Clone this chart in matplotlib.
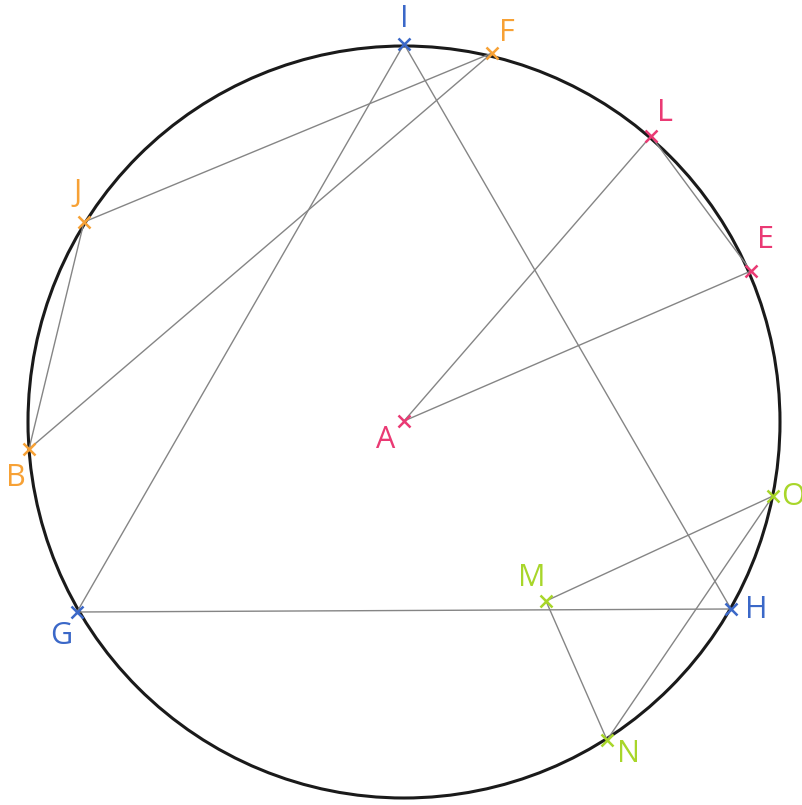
import matplotlib
matplotlib.use("Agg")
import matplotlib.pyplot as plt
from matplotlib.patches import Circle

# Points (image pixel coordinates, y downward)
names = ["I", "F", "L", "E", "O", "H", "N", "M", "G", "B", "J", "A"]
xs = [404, 492, 651, 751, 773, 731, 607, 546, 77, 29, 84, 404]
ys = [44, 53, 136, 271, 496, 609, 740, 601, 612, 449, 222, 421]
groups = ["blue", "orange", "pink", "pink", "green", "blue", "green", "green",
          "blue", "orange", "orange", "pink"]

# label offsets from each point
label_dx = [0, 15, 14, 15, 20, 25, 21, -14, -16, -13, -6, -18]
label_dy = [-25, -20, -23, -31, 1, 1, 14, -23, 24, 29, -29, 19]

# triangles
triangles = [("I", "G", "H"), ("F", "J", "B"), ("A", "L", "E"), ("M", "O", "N")]

center = (404, 422)
radius = 376

colors = {"blue": "#3b68c8", "orange": "#f7a135", "pink": "#ea3a74", "green": "#a8d62a"}

fig = plt.figure(figsize=(8.02, 8.05), dpi=100)
ax = fig.add_axes([0, 0, 1, 1])
ax.set_xlim(0, 802)
ax.set_ylim(805, 0)
ax.set_aspect("equal")
ax.axis("off")

ax.add_patch(Circle(center, radius, fill=False, edgecolor="#1a1a1a", lw=2.2))

pos = {n: (x, y) for n, x, y in zip(names, xs, ys)}
for tri in triangles:
    for i in range(3):
        a, b = pos[tri[i]], pos[tri[(i + 1) % 3]]
        ax.plot([a[0], b[0]], [a[1], b[1]], color="#858585", lw=1.0, zorder=2)

for n, x, y, g, dx, dy in zip(names, xs, ys, groups, label_dx, label_dy):
    c = colors[g]
    ax.plot(x, y, marker="x", ms=8, mew=1.8, color=c, zorder=3)
    ax.text(x + dx, y + dy, n, color=c, fontsize=22, family="Open Sans",
            ha="center", va="center")

fig.savefig("out.png", dpi=100)
